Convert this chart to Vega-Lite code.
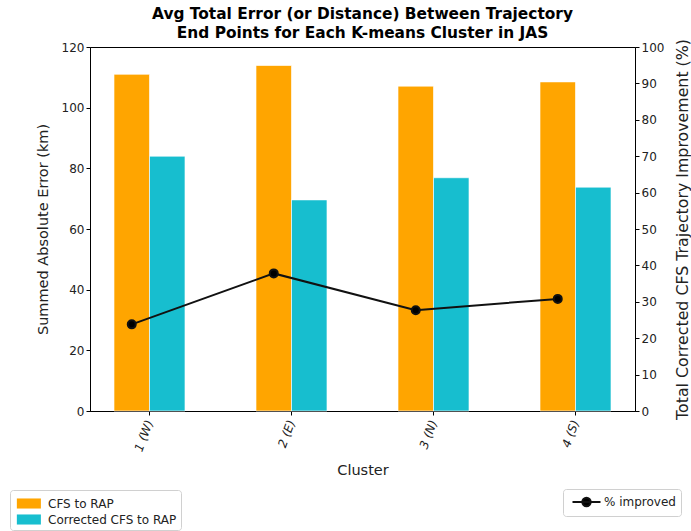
{
  "$schema": "https://vega.github.io/schema/vega-lite/v6.json",
  "autosize": {"type": "none"},
  "width": 545,
  "height": 364,
  "padding": {"left": 90, "top": 47, "right": 56, "bottom": 120},
  "background": "white",
  "config": {
    "font": "DejaVu Sans",
    "view": {"stroke": "black", "strokeWidth": 1},
    "axis": {
      "grid": false,
      "domainColor": "black",
      "tickColor": "black",
      "labelColor": "#222",
      "labelFont": "DejaVu Sans",
      "labelFontSize": 12,
      "titleFont": "DejaVu Sans",
      "titleFontSize": 14.5,
      "titleFontWeight": "normal",
      "titleColor": "#222",
      "tickSize": 4
    },
    "legend": {
      "labelFont": "DejaVu Sans",
      "labelFontSize": 12,
      "labelColor": "#222",
      "strokeColor": "#d0d0d0",
      "fillColor": "white",
      "cornerRadius": 3
    }
  },
  "title": {
    "text": ["Avg Total Error (or Distance) Between Trajectory", "End Points for Each K-means Cluster in JAS"],
    "font": "DejaVu Sans",
    "fontSize": 15.4,
    "fontWeight": "bold",
    "color": "black",
    "lineHeight": 19,
    "anchor": "middle",
    "offset": -3
  },
  "datasets": {
    "bars": [
      {"cluster": "1 (W)", "series": "CFS to RAP", "error": 111},
      {"cluster": "1 (W)", "series": "Corrected CFS to RAP", "error": 84},
      {"cluster": "2 (E)", "series": "CFS to RAP", "error": 113.9},
      {"cluster": "2 (E)", "series": "Corrected CFS to RAP", "error": 69.6},
      {"cluster": "3 (N)", "series": "CFS to RAP", "error": 107.1},
      {"cluster": "3 (N)", "series": "Corrected CFS to RAP", "error": 76.9},
      {"cluster": "4 (S)", "series": "CFS to RAP", "error": 108.5},
      {"cluster": "4 (S)", "series": "Corrected CFS to RAP", "error": 73.8}
    ],
    "improve": [
      {"cluster": "1 (W)", "series": "CFS to RAP", "label": "% improved", "pct": 23.8},
      {"cluster": "2 (E)", "series": "CFS to RAP", "label": "% improved", "pct": 37.8},
      {"cluster": "3 (N)", "series": "CFS to RAP", "label": "% improved", "pct": 27.7},
      {"cluster": "4 (S)", "series": "CFS to RAP", "label": "% improved", "pct": 30.8}
    ]
  },
  "encoding": {
    "x": {
      "field": "cluster",
      "type": "nominal",
      "sort": null,
      "scale": {"paddingInner": 0.5, "paddingOuter": 0.169},
      "axis": {"title": "Cluster", "labelAngle": -70, "labelFontStyle": "italic", "labelPadding": 5, "titlePadding": 11}
    },
    "xOffset": {
      "field": "series",
      "type": "nominal",
      "scale": {"domain": ["CFS to RAP", "Corrected CFS to RAP"], "paddingInner": 0, "paddingOuter": 0}
    }
  },
  "layer": [
    {
      "data": {"name": "bars"},
      "mark": {"type": "bar", "stroke": "white", "strokeWidth": 0.8, "strokeOpacity": 0.8},
      "encoding": {
        "y": {
          "field": "error",
          "type": "quantitative",
          "scale": {"domain": [0, 120], "nice": false},
          "axis": {"title": "Summed Absolute Error (km)", "values": [0, 20, 40, 60, 80, 100, 120], "titlePadding": 11}
        },
        "color": {
          "field": "series",
          "type": "nominal",
          "scale": {"domain": ["CFS to RAP", "Corrected CFS to RAP"], "range": ["#FFA500", "#17BECF"]},
          "legend": {
            "title": null,
            "orient": "none",
            "legendX": -80,
            "legendY": 443,
            "padding": 4,
            "symbolType": "M-0.7,-0.53L1.83,-0.53L1.83,0.53L-0.7,0.53Z",
            "symbolSize": 361,
            "symbolStrokeWidth": 0,
            "symbolOpacity": 1,
            "labelOffset": 15,
            "rowPadding": 0
          }
        }
      }
    },
    {
      "data": {"name": "improve"},
      "mark": {"type": "line", "color": "#111", "strokeWidth": 2, "point": {"filled": true, "size": 64, "color": "black"}},
      "encoding": {
        "y": {
          "field": "pct",
          "type": "quantitative",
          "scale": {"domain": [0, 100], "nice": false},
          "axis": {"title": "Total Corrected CFS Trajectory Improvement (%)", "orient": "right", "titleAngle": 270, "titleBaseline": "top", "titleFontSize": 15.8, "values": [0, 10, 20, 30, 40, 50, 60, 70, 80, 90, 100], "titlePadding": 12}
        },
        "stroke": {
          "field": "label",
          "type": "nominal",
          "scale": {"range": ["#111"]},
          "legend": {
            "title": null,
            "orient": "none",
            "legendX": 473,
            "legendY": 442,
            "padding": 5,
            "symbolType": "M-0.5,0L3.5,0M2.1,0A0.6,0.6,0,1,1,0.9,0A0.6,0.6,0,1,1,2.1,0Z",
            "symbolFillColor": "black",
            "symbolStrokeColor": "#111",
            "symbolStrokeWidth": 2,
            "symbolSize": 196,
            "labelOffset": 20
          }
        }
      }
    }
  ],
  "resolve": {"scale": {"y": "independent", "color": "independent"}}
}
